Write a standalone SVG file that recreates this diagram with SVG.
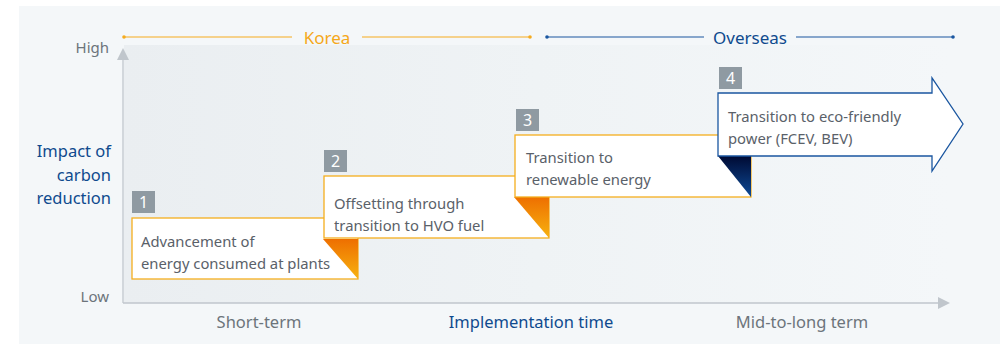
<svg xmlns="http://www.w3.org/2000/svg" width="1000" height="344" viewBox="0 0 1000 344">
<defs>
<linearGradient id="area" x1="0" y1="0" x2="1" y2="0">
<stop offset="0" stop-color="#eaeef1"/>
<stop offset="0.5" stop-color="#eff3f5"/>
<stop offset="1" stop-color="#f4f7f9"/>
</linearGradient>
<linearGradient id="fold" x1="0" y1="0" x2="0" y2="1">
<stop offset="0" stop-color="#ee6f00"/>
<stop offset="1" stop-color="#f7b20f"/>
</linearGradient>
<linearGradient id="foldNavy" x1="0" y1="0" x2="0" y2="1">
<stop offset="0" stop-color="#000a33"/>
<stop offset="1" stop-color="#0d4a96"/>
</linearGradient>
<marker id="ah" viewBox="0 0 10 10" refX="0" refY="5" markerWidth="15" markerHeight="12" markerUnits="userSpaceOnUse" orient="auto">
<path d="M0,0 L10,5 L0,10 Z" fill="#c0c6cc"/>
</marker>
</defs>
<style>
text{font-family:"Noto Sans","Open Sans","Liberation Sans",sans-serif}
.box{fill:#fff;stroke:#f5ae1e;stroke-width:1.3}
.arrow4{fill:#fff;stroke:#1a56a0;stroke-width:1.3}
.num{fill:#8f9aa2}
.numt{fill:#fff;font-size:16px;text-anchor:middle}
.bt{fill:#5a6169;font-size:14.8px}
.axl{fill:#6c747b;font-size:16.5px}
.blue{fill:#0f4a8e}
.axis{stroke:#c0c6cc;stroke-width:1.3;fill:none}
</style>
<rect x="19" y="6" width="981" height="338" fill="#f4f7f9"/>
<rect x="124" y="45" width="826" height="258" fill="url(#area)"/>

<g id="axes">
<line class="axis" x1="123" y1="303" x2="123" y2="60" marker-end="url(#ah)"/>
<line class="axis" x1="123" y1="303" x2="938" y2="303" marker-end="url(#ah)"/>
<text class="axl" x="109" y="53" text-anchor="end" style="font-size:15px">High</text>
<text class="axl" x="109" y="302" text-anchor="end" style="font-size:15px">Low</text>
<text class="blue" font-size="16.5" text-anchor="end"><tspan x="111" y="157">Impact of</tspan><tspan x="111" y="181">carbon</tspan><tspan x="111" y="204">reduction</tspan></text>
<text class="axl" x="259" y="328" text-anchor="middle">Short-term</text>
<text class="blue" font-size="16.5" x="531" y="328" text-anchor="middle">Implementation time</text>
<text class="axl" x="802" y="328" text-anchor="middle">Mid-to-long term</text>
</g>

<g id="korea">
<line x1="124" y1="37" x2="292" y2="37" stroke="#f5ab1f" stroke-width="1.2"/>
<line x1="362" y1="37" x2="530" y2="37" stroke="#f5ab1f" stroke-width="1.2"/>
<circle cx="124" cy="37" r="1.8" fill="#f5ab1f"/>
<circle cx="530" cy="37" r="1.8" fill="#f5ab1f"/>
<text x="327" y="44" font-size="17" fill="#f5a81a" text-anchor="middle">Korea</text>
</g>
<g id="overseas">
<line x1="547" y1="37" x2="704" y2="37" stroke="#1a56a0" stroke-width="1.2"/>
<line x1="796" y1="37" x2="953" y2="37" stroke="#1a56a0" stroke-width="1.2"/>
<circle cx="547" cy="37" r="1.8" fill="#1a56a0"/>
<circle cx="953" cy="37" r="1.8" fill="#1a56a0"/>
<text class="blue" x="750" y="44" font-size="17" text-anchor="middle">Overseas</text>
</g>

<g id="step1">
<rect class="box" x="132" y="218" width="226" height="61"/>
<path d="M323,239 L358,239 L358,279 Z" fill="url(#fold)"/>
<rect class="num" x="132" y="191" width="23" height="22"/>
<text class="numt" x="143.5" y="208">1</text>
<text class="bt"><tspan x="141" y="247">Advancement of</tspan><tspan x="141" y="269">energy consumed at plants</tspan></text>
</g>

<g id="step2">
<rect class="box" x="324" y="176" width="225" height="62"/>
<path d="M514,197 L549,197 L549,238 Z" fill="url(#fold)"/>
<rect class="num" x="324" y="150" width="23" height="22"/>
<text class="numt" x="335.5" y="167">2</text>
<text class="bt"><tspan x="334" y="209">Offsetting through</tspan><tspan x="334" y="231">transition to HVO fuel</tspan></text>
</g>

<g id="step3">
<rect class="box" x="515" y="135" width="236" height="62"/>
<path d="M718,156 L751,156 L751,197 Z" fill="url(#foldNavy)"/>
<rect class="num" x="516" y="109" width="23" height="22"/>
<text class="numt" x="527.5" y="126">3</text>
<text class="bt"><tspan x="526" y="163">Transition to</tspan><tspan x="526" y="185">renewable energy</tspan></text>
</g>

<g id="step4">
<path class="arrow4" d="M718,93 L932,93 L932,78 L963,124 L932,171 L932,156 L718,156 Z"/>
<rect class="num" x="719" y="67" width="23" height="22"/>
<text class="numt" x="730.5" y="84">4</text>
<text class="bt"><tspan x="728" y="122">Transition to eco-friendly</tspan><tspan x="728" y="144">power (FCEV, BEV)</tspan></text>
</g>
</svg>
